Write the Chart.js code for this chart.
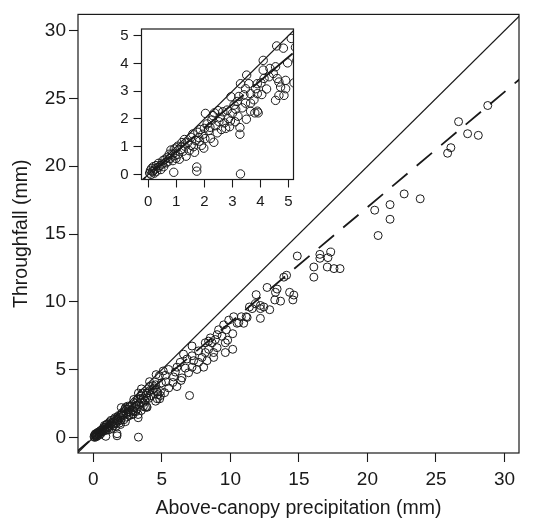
<!DOCTYPE html>
<html>
<head>
<meta charset="utf-8">
<script src="https://cdn.jsdelivr.net/npm/chart.js@4.4.1/dist/chart.umd.min.js"></script>
<style>
  html, body { margin: 0; padding: 0; background: #fff; }
  #wrap { position: relative; width: 535px; height: 520px; }
  #mainChart { position: absolute; left: 0; top: 0; }
  #insetChart { position: absolute; left: 95px; top: 15px; }
</style>
</head>
<body>
<div id="wrap">
  <canvas id="mainChart" width="535" height="520"></canvas>
  <canvas id="insetChart" width="205" height="200"></canvas>
</div>
<script>
// Above-canopy precipitation (mm), one value per event
const precipitation = [
  // 0-1
  0.05, 0.08, 0.10, 0.12, 0.15, 0.18, 0.20, 0.22, 0.25, 0.28,
  0.30, 0.35, 0.36, 0.42, 0.45, 0.50, 0.52, 0.55, 0.60, 0.63,
  0.68, 0.70, 0.75, 0.78, 0.81, 0.86, 0.88, 0.91, 0.93, 0.96,
  1.00, 0.99,
  // 1-2
  1.05, 1.07, 1.11, 1.16, 1.20, 1.25, 1.29, 1.30, 1.35, 1.41,
  1.46, 1.52, 1.53, 1.59, 1.61, 1.65, 1.70, 1.73, 1.73, 1.77,
  1.80, 1.83, 1.86, 1.90, 1.95, 1.98, 2.00,
  // 2-3
  2.04, 2.02, 2.10, 2.15, 2.20, 2.22, 2.27, 2.31, 2.34, 2.36,
  2.41, 2.46, 2.49, 2.52, 2.56, 2.61, 2.66, 2.71, 2.76, 2.81,
  2.86, 2.90, 2.95, 2.93, 3.00,
  // 3-4
  3.29, 3.59, 3.89, 3.47, 3.83, 3.65, 3.89, 3.23, 3.41, 3.17,
  3.47, 3.65, 3.77, 3.89, 3.65, 3.51, 3.29, 3.27, 3.27, 3.10,
  3.20, 3.50, 3.35, 3.06, 3.80, 3.92, 3.12,
  // 4-5
  4.10, 4.10, 4.34, 4.54, 4.46, 4.31, 4.13, 4.60, 4.58, 4.82,
  4.66, 4.90, 4.72, 4.90, 4.84, 4.66, 4.54, 4.02, 4.22, 4.05,
  4.97,
  // 5-7
  5.10, 5.25, 5.49, 5.85, 5.98, 6.10, 6.47, 6.71, 6.95, 6.34,
  6.83, 6.58, 5.20, 5.50, 6.10, 5.80, 6.40, 5.30, 7.02, 7.20,
  // 7-10
  7.20, 7.56, 8.05, 7.68, 8.30, 7.32, 7.93, 8.78, 7.20, 7.68,
  8.17, 9.63, 9.03, 8.41, 10.17, 8.17, 8.66, 9.63, 8.54, 8.90,
  9.03, 9.39, 9.14, 9.71, 10.17, 9.51, 9.88, 9.80, 8.41, 8.78,
  // 10-12
  10.61, 10.97, 10.24, 10.80, 11.15, 11.39, 11.59, 11.83, 12.19, 12.44,
  12.87, 12.19, 11.22, 10.49, 11.88, 12.19,
  // 12-18
  12.68, 13.41, 13.29, 14.32, 14.63, 13.24, 13.66, 14.56, 13.90, 14.10,
  14.88, 16.53, 17.32, 16.53, 17.12, 16.09, 17.07, 17.56, 18.00, 16.09,
  // 20-29
  28.78, 26.65, 27.31, 28.09, 26.09, 25.85, 22.68, 23.85, 21.65, 20.53,
  21.65, 20.78
];

// Throughfall (mm), same order as precipitation
const throughfall = [
  0.05, 0.15, 0.00, 0.22, 0.10, 0.28, 0.15, 0.05, 0.20, 0.32,
  0.12, 0.25, 0.40, 0.32, 0.18, 0.38, 0.50, 0.28, 0.55, 0.42,
  0.62, 0.46, 0.73, 0.58, 0.88, 0.74, 0.50, 0.08, 0.92, 0.68,
  0.96, 0.58,

  1.02, 0.73, 0.55, 0.90, 1.15, 0.84, 1.26, 1.02, 0.66, 1.15,
  0.86, 1.34, 1.05, 1.46, 1.00, 0.80, 1.22, 0.27, 0.12, 1.52,
  1.33, 1.20, 1.62, 1.05, 1.45, 0.95, 1.66,

  2.20, 1.29, 1.82, 1.58, 1.70, 1.30, 1.96, 2.12, 1.16, 2.22,
  1.76, 1.50, 2.30, 1.90, 2.06, 1.62, 2.26, 1.86, 1.66, 2.32,
  2.01, 1.72, 2.80, 1.93, 2.20,

  3.27, 3.27, 3.27, 3.09, 3.09, 2.91, 2.91, 2.81, 2.87, 2.63,
  2.57, 2.57, 2.69, 2.28, 2.28, 3.58, 0.02, 1.45, 1.69, 1.90,
  2.10, 1.99, 2.40, 2.50, 2.22, 2.22, 2.35,

  4.11, 3.76, 3.82, 3.88, 3.64, 3.52, 3.46, 3.46, 4.63, 4.55,
  3.33, 3.39, 3.15, 3.09, 2.85, 2.85, 2.67, 3.30, 3.08, 2.88,
  4.02,

  4.90, 4.58, 5.01, 4.46, 4.82, 5.18, 4.39, 5.11, 4.77, 5.54,
  5.78, 6.14, 3.30, 3.65, 3.75, 4.05, 4.20, 4.10, 3.09, 6.74,

  5.18, 5.01, 5.18, 5.54, 5.66, 5.66, 5.90, 5.90, 6.02, 6.38,
  6.26, 6.26, 6.62, 6.50, 6.50, 6.98, 6.98, 6.98, 7.34, 7.22,
  7.58, 7.46, 7.94, 7.94, 7.65, 8.30, 8.65, 7.17, 7.10, 6.26,

  8.47, 8.42, 8.90, 8.90, 8.90, 9.62, 9.50, 9.86, 9.50, 9.62,
  9.42, 8.78, 8.85, 8.42, 10.53, 9.73,

  11.06, 10.94, 10.70, 10.70, 10.50, 10.14, 10.05, 10.14, 11.82, 11.96,
  13.38, 13.50, 13.67, 13.21, 13.26, 12.57, 12.57, 12.45, 12.45, 11.82,

  24.48, 23.29, 22.40, 22.28, 21.37, 20.96, 17.96, 17.60, 17.17, 16.76,
  16.09, 14.89
];

// fitted regression (dashed) line
const FIT_SLOPE = 0.85;
const FIT_INTERCEPT = -0.02;

const mainTicks = [0, 5, 10, 15, 20, 25, 30];
const insetTicks = [0, 1, 2, 3, 4, 5];

const FONT = "'Liberation Sans', Arial, Helvetica, sans-serif";
const INK = "#1a1a1a";

const points = precipitation.map((x, i) => ({ x: x, y: throughfall[i] }));
const lineEnds = [-5, 40];

// R-style box round the plotting region
const boxPlugin = {
  id: "box",
  afterDatasetsDraw(chart) {
    const { ctx, chartArea: a } = chart;
    ctx.save();
    ctx.strokeStyle = INK;
    ctx.lineWidth = 1.2;
    ctx.strokeRect(a.left, a.top, a.right - a.left, a.bottom - a.top);
    ctx.restore();
  }
};

function datasets(dash, dashWidth, radius) {
  return [
    {
      data: lineEnds.map(v => ({ x: v, y: v })),
      showLine: true, pointRadius: 0, borderColor: INK, borderWidth: 1.2,
      clip: 0, order: 0
    },
    {
      data: lineEnds.map(v => ({ x: v, y: FIT_SLOPE * v + FIT_INTERCEPT })),
      showLine: true, pointRadius: 0, borderColor: INK, borderWidth: dashWidth,
      borderDash: dash, clip: 0, order: 0
    },
    {
      data: points,
      pointRadius: radius, pointBorderWidth: 1, pointBorderColor: INK,
      pointBackgroundColor: "rgba(0,0,0,0)", showLine: false,
      clip: 0, order: 1
    }
  ];
}

function axis(min, max, ticks, fontSize, tickLen, pad, size, horizontal, title) {
  const opts = {
    type: "linear", min: min, max: max,
    afterBuildTicks: s => { s.ticks = ticks.map(v => ({ value: v })); },
    afterFit: s => { if (horizontal) s.height = size; else s.width = size; },
    grid: { drawOnChartArea: false, drawTicks: true, tickLength: tickLen, tickColor: INK, tickWidth: 1.1 },
    border: { display: false },
    ticks: { color: INK, font: { family: FONT, size: fontSize }, padding: pad, maxRotation: 0, autoSkip: false }
  };
  if (title) opts.title = title;
  return opts;
}

new Chart(document.getElementById("mainChart"), {
  type: "scatter",
  data: { datasets: datasets([20, 12], 1.8, 4) },
  options: {
    responsive: false, animation: false, devicePixelRatio: 1,
    layout: { padding: { left: 0, right: 16, top: 3, bottom: 0 } },
    plugins: { legend: { display: false }, tooltip: { enabled: false } },
    scales: {
      x: axis(-1.12, 31.06, mainTicks, 19, 9, 6, 67, true, {
        display: true, text: "Above-canopy precipitation (mm)", color: INK,
        font: { family: FONT, size: 19.5 }, padding: { top: 3, bottom: 0 }
      }),
      y: axis(-1.15, 31.2, mainTicks, 19, 9, 3, 78, false, {
        display: true, text: "Throughfall (mm)", color: INK,
        font: { family: FONT, size: 19.5 }, padding: { top: 10, bottom: 0 }
      })
    }
  },
  plugins: [boxPlugin]
});

// inset: zoom on the 0-5 mm events
new Chart(document.getElementById("insetChart"), {
  type: "scatter",
  data: { datasets: datasets([52, 12], 1.8, 4.2) },
  options: {
    responsive: false, animation: false, devicePixelRatio: 1,
    layout: { padding: { left: 0, right: 6.5, top: 12.3, bottom: 0 } },
    plugins: { legend: { display: false }, tooltip: { enabled: false } },
    scales: {
      x: axis(-0.24, 5.18, insetTicks, 15, 8, 5, 35.5, true),
      y: axis(-0.18, 5.24, insetTicks, 15, 8, 5, 46.5, false)
    }
  },
  plugins: [boxPlugin]
});
</script>
</body>
</html>
